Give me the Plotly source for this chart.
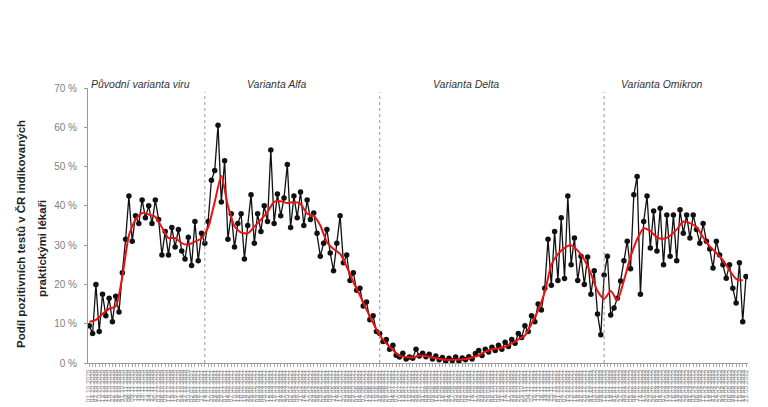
import pandas as pd
import plotly.graph_objects as go

# ---- data ----
dates = pd.date_range("2020-10-01", periods=200, freq="3D").strftime("%d.%m.%Y").tolist()

positivity = [
    9.5, 7.5, 20, 8, 17.5, 12, 16.5, 10.5, 17, 13,
    23, 31.5, 42.5, 31, 37.5, 35.5, 41.5, 37, 40, 35.5,
    41.5, 36.5, 27.5, 33.5, 27.5, 34.5, 29.5, 34, 28.5, 26.5,
    32, 24.8, 36, 26, 33, 30.5, 36, 46.5, 49, 60.5,
    41, 51.5, 31.5, 38, 29.5, 35.5, 38, 26.5, 35, 42.8,
    30.5, 38, 33.5, 40, 36, 54.2, 35.5, 43, 37.5, 42,
    50.5, 34.5, 42.5, 37, 43.5, 35, 41.5, 36.5, 38.2, 33,
    27.2, 30.5, 34, 28, 23.5, 30.5, 37.5, 25.5, 27.5, 21,
    23, 18.5, 19, 14.5, 15.5, 11, 12, 8, 7.5, 5.5,
    6, 3.5, 4.5, 2, 1.5, 2.5, 1, 1.5, 1.2, 3.5,
    1.8, 2.5, 1.6, 2.2, 1, 1.8, 0.8, 1.4, 0.5, 1.2,
    0.6, 1.5, 0.5, 1.3, 0.8, 1.6, 1, 2.4, 3.2, 1.9,
    3.5, 2.8, 4, 3.2, 4.5, 3.5, 5.3, 4.2, 6, 5,
    7.5, 6.5, 9.5, 8, 12, 10.5, 15, 13.5, 19, 31.5,
    19.8, 33.5, 21, 37, 21.5, 42.5, 25, 31.8, 21, 27.2,
    20, 27, 17.5, 23.5, 12.5, 7.2, 22.4, 27.2, 12.2, 14,
    16.5, 20.9, 26, 31, 24, 42.8, 47.5, 17.5, 36, 42.5,
    29.3, 38.7, 28.5, 39.4, 25, 37.7, 27.2, 37.7, 26, 39,
    33, 37.7, 31.8, 37.7, 34, 30.5, 35.5, 31, 29, 24.2,
    31, 27.5, 25, 21.6, 25, 19, 15.3, 25.5, 10.5, 22,
]

# smoothed trend (every second date)
trend = [
    10.5, 11, 12.5, 13.8, 14.4, 22, 32.5, 36.5, 38.2, 37.8,
    37.2, 34.5, 31.8, 31.8, 30.5, 30.1, 30.9, 31.7, 34.5, 41,
    47.6, 40, 34.8, 33.2, 33, 34.7, 36.5, 38.5, 41, 41.2,
    40.7, 41, 40.5, 38, 37.5, 35, 30.8, 29, 27.8, 24.5,
    20.6, 17.2, 13.6, 10.2, 7, 5, 3.3, 1.8, 1.5, 1.4,
    1.9, 1.8, 1.4, 1.1, 0.8, 0.8, 0.9, 1, 1.4, 1.9,
    2.9, 3.5, 3.7, 4.2, 5, 6, 7, 10, 13.4, 18,
    25, 27.7, 29.3, 30, 28.6, 26.3, 22.7, 18.3, 16.3, 18.3,
    16, 21, 27, 31.5, 34.3, 33.6, 32, 31.6, 32.4, 34,
    36, 35.6, 34.6, 32, 29.7, 28, 26.2, 23.6, 21.4, 21,
]
trend_dates = dates[::2]

variant_names = ["Původní varianta viru", "Varianta Alfa", "Varianta Delta", "Varianta Omikron"]
variant_start_idx = [35, 88, 156]
variant_label_idx = [15.5, 57, 114, 173.5]

y_ticks = [0, 10, 20, 30, 40, 50, 60, 70]
y_tick_text = [f"{v} %" for v in y_ticks]

y_title_lines = ["Podíl pozitivních testů v ČR indikovaných", "praktickými lékaři"]

FONT = "Liberation Sans, Arial, sans-serif"

fig = go.Figure()
fig.add_trace(go.Scatter(
    x=dates, y=positivity, mode="lines+markers",
    line=dict(color="#111111", width=1.3),
    marker=dict(color="#111111", size=5.5),
    showlegend=False,
))
fig.add_trace(go.Scatter(
    x=trend_dates, y=trend, mode="lines",
    line=dict(color="#ee1111", width=2, shape="spline", smoothing=0.6),
    showlegend=False,
))

for idx in variant_start_idx:
    fig.add_shape(type="line", xref="x", yref="paper", x0=idx, x1=idx, y0=0, y1=0.985,
                  line=dict(color="#999999", width=1, dash="dot"))

for name, pos in zip(variant_names, variant_label_idx):
    fig.add_annotation(x=pos, y=1, xref="x", yref="paper", yanchor="bottom", yshift=-4,
                       text=f"<i>{name}</i>", showarrow=False,
                       font=dict(family=FONT, size=10.5, color="#333333"))

for line_text, xs, yp in zip(y_title_lines, [-67, -46], [0.469, 0.415]):
    fig.add_annotation(
        x=0, xref="paper", xshift=xs, y=yp, yref="paper",
        text=f"<b>{line_text}</b>",
        textangle=-90, showarrow=False, xanchor="center", yanchor="middle",
        font=dict(family=FONT, size=11.5, color="#222222"),
    )

fig.update_layout(
    width=768, height=407,
    margin=dict(l=80, r=28, t=80, b=52),
    paper_bgcolor="white", plot_bgcolor="white",
    font=dict(family=FONT),
)
fig.update_xaxes(
    type="category", range=[-0.4, 199.6],
    showline=True, linecolor="#999999", linewidth=1,
    ticks="outside", ticklen=3, tickcolor="#aaaaaa",
    tickmode="array", tickvals=dates, ticktext=dates,
    tickangle=-90, tickfont=dict(size=6.5, color="#888888"),
    showgrid=False, zeroline=False,
)
fig.update_yaxes(
    range=[0, 70], tickvals=y_ticks, ticktext=y_tick_text,
    showline=True, linecolor="#999999", linewidth=1,
    ticks="outside", ticklen=3, tickcolor="#999999",
    tickfont=dict(size=10, color="#808080"), ticklabelstandoff=5,
    showgrid=False, zeroline=False,
)

fig.write_html("out.html")
